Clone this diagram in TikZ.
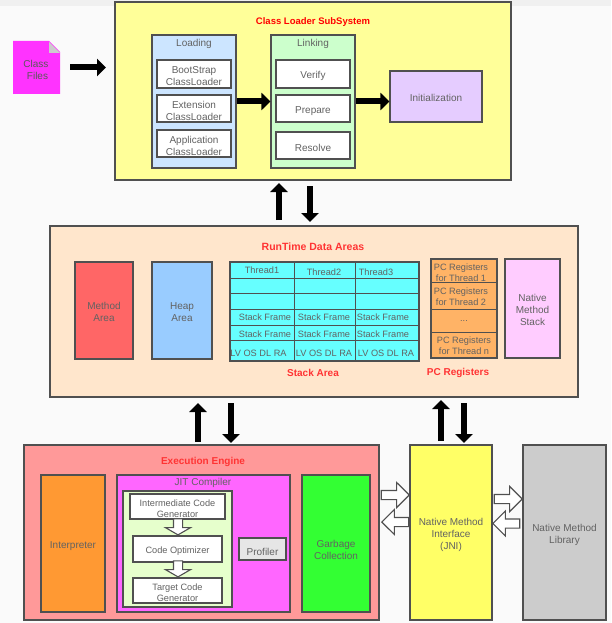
\documentclass[tikz,border=0pt]{standalone}
\usepackage{fontspec}
\setmainfont{Liberation Sans}
\usetikzlibrary{arrows.meta,shapes.arrows,calc}
\definecolor{ln}{HTML}{505050}
\definecolor{tx}{HTML}{626262}
\definecolor{ttl}{HTML}{FF3333}
\definecolor{cfiles}{HTML}{FF33FF}
\definecolor{cyel}{HTML}{FFFF99}
\definecolor{cload}{HTML}{CCE5FF}
\definecolor{clink}{HTML}{CCFFCC}
\definecolor{cinit}{HTML}{E5CCFF}
\definecolor{crt}{HTML}{FFE6CC}
\definecolor{cma}{HTML}{FF6666}
\definecolor{cha}{HTML}{99CCFF}
\definecolor{cst}{HTML}{66FFFF}
\definecolor{cpc}{HTML}{FFB366}
\definecolor{cnms}{HTML}{FFCCFF}
\definecolor{cee}{HTML}{FF9999}
\definecolor{cip}{HTML}{FF9933}
\definecolor{cjit}{HTML}{FF66FF}
\definecolor{cjin}{HTML}{E6FFCC}
\definecolor{cprof}{HTML}{E6E6E6}
\definecolor{cgc}{HTML}{33FF33}
\definecolor{cjni}{HTML}{FFFF66}
\definecolor{clib}{HTML}{CCCCCC}
\tikzset{
  x=1pt,y=-1pt,
  txt/.style={font=\fontsize{10}{12}\selectfont,text=tx,align=center,inner sep=0pt},
  small/.style={font=\fontsize{9.2}{11.3}\selectfont},
  ttlnode/.style={txt,font=\fontsize{10}{12}\selectfont\bfseries,text=ttl},
  boxed/.style={draw=ln,line width=1.1pt,inner sep=0pt,anchor=center},
  heavy/.style={draw=black,line width=6pt,-{Triangle[length=9pt,width=17pt]}},
  hollow/.style={single arrow,draw=ln,fill=white,line width=1.1pt,inner sep=0pt,
     single arrow head extend=8pt,single arrow tip angle=90,
     minimum width=24pt,anchor=tip},
  hollowsmall/.style={hollow,single arrow tip angle=120,minimum height=16pt,rotate=-90},
}
% \bx[text shift]{name}{x0}{y0}{x1}{y1}{fill}{text}
\newcommand{\bx}[8][2]{\node[boxed,fill=#7,minimum width=#5pt-#3pt,minimum height=#6pt-#4pt] (#2) at ({(#3+#5)/2},{(#4+#6)/2}) {};
  \node[txt] (#2t) at ({(#3+#5)/2},{(#4+#6)/2+#1}) {#8};}
\newcommand{\bxs}[8][2]{\node[boxed,fill=#7,minimum width=#5pt-#3pt,minimum height=#6pt-#4pt] (#2) at ({(#3+#5)/2},{(#4+#6)/2}) {};
  \node[txt,small] (#2t) at ({(#3+#5)/2},{(#4+#6)/2+#1}) {#8};}
\newcommand{\bxe}[6]{\node[boxed,fill=#6,minimum width=#4pt-#2pt,minimum height=#5pt-#3pt] (#1) at ({(#2+#4)/2},{(#3+#5)/2}) {};}
\newcommand{\lab}[4]{\node[txt] (#1) at (#2,#3) {#4};}
\newcommand{\labs}[4]{\node[txt,small] (#1) at (#2,#3) {#4};}
\newcommand{\shaft}{\rule{0pt}{8pt}}
\begin{document}
\begin{tikzpicture}
\useasboundingbox (0,0) rectangle (611,623);
\fill[white!98!black] (0,0) rectangle (611,623);
\fill[white!94!black] (0,0) rectangle (611,6);

% Class files
\path[fill=cfiles] (13,41) -- (49,41) -- (60,52) -- (60,94) -- (13,94) -- cycle;
\fill[black!20] (49,42) -- (60,53) -- (49,53) -- cycle;
\node[txt,text=black!65] (cf) at (36,70) {Class\\\hspace{3pt}Files};
\coordinate (cfout) at (70,67.5);
\coordinate (cfin) at (106,67.5);

% Class loader
\bxe{cl}{115}{2}{511}{180}{cyel}
\node[ttlnode,font=\fontsize{9.5}{12}\selectfont\bfseries,text=red] (clt) at (313,22) {Class Loader SubSystem};
\bxe{loading}{152}{35}{236}{168}{cload}
\lab{loadt}{194}{43.5}{Loading}
\bx{bs}{157}{60}{231}{88}{white}{BootStrap\\ClassLoader}
\bx{ext}{157}{95}{231}{122}{white}{Extension\\ClassLoader}
\bx{app}{157}{130}{231}{157}{white}{Application\\ClassLoader}
\bxe{linking}{271}{35}{355}{168}{clink}
\lab{lnkt}{313}{43.5}{Linking}
\bx[1.5]{ver}{276}{60}{350}{88}{white}{Verify}
\bx[2.5]{pre}{276}{95}{350}{122}{white}{Prepare}
\bx[2]{res}{276}{132}{350}{159}{white}{Resolve}
\bx[1.5]{init}{390}{71}{482}{122}{cinit}{Initialization}

\draw[heavy] (cfout) -- (cfin);
\draw[heavy] (loading.east) -- (linking.west);
\draw[heavy] (linking.east) -- (linking.east -| init.west);

% Runtime
\bxe{rt}{50}{226}{578}{397}{crt}
\node[ttlnode,font=\fontsize{10.5}{12}\selectfont\bfseries] (rtt) at (313,247) {RunTime Data Areas};
\bx[1.5]{ma}{75}{262}{133}{359}{cma}{Method\\Area}
\bx[2]{ha}{152}{262}{212}{359}{cha}{Heap\\Area}
\bxe{st}{230}{262}{419}{361}{cst}
\draw[ln,line width=.9pt] (st.west |- 0,278) -- (st.east |- 0,278)
  (st.west |- 0,293.5) -- (st.east |- 0,293.5)
  (st.west |- 0,309) -- (st.east |- 0,309)
  (st.west |- 0,325) -- (st.east |- 0,325)
  (st.west |- 0,340) -- (st.east |- 0,340)
  (294.5,0 |- st.north) -- (294.5,0 |- st.south)
  (355,0 |- st.north) -- (355,0 |- st.south);
\labs{t1}{262}{270.5}{Thread1}
\labs{t2}{324}{272}{Thread2}
\labs{t3}{376}{272}{Thread3}
\labs{a1}{265}{317.5}{Stack Frame}
\labs{a2}{324}{317.5}{Stack Frame}
\labs{a3}{383}{317.5}{Stack Frame}
\labs{b1}{265}{334}{Stack Frame}
\labs{b2}{324}{334}{Stack Frame}
\labs{b3}{383}{334}{Stack Frame}
\labs{c1}{258.5}{353}{LV OS DL RA}
\labs{c2}{324}{353}{LV OS DL RA}
\labs{c3}{386}{353}{LV OS DL RA}
\node[ttlnode] (sat) at (313,372.5) {Stack Area};
\node[ttlnode] (pct) at (458,372.5) {PC Registers};
\bxe{pc}{431}{259}{497}{358}{cpc}
\draw[ln,line width=.9pt] (pc.west |- 0,282) -- (pc.east |- 0,282)
  (pc.west |- 0,309) -- (pc.east |- 0,309)
  (pc.west |- 0,332) -- (pc.east |- 0,332);
\labs{p1}{461}{273}{PC Registers\\for Thread 1}
\labs{p2}{461}{297}{PC Registers\\for Thread 2}
\labs{p3}{464}{321}{...}
\labs{p4}{464}{346}{PC Registers\\for Thread n}
\bx[1]{nms}{505}{259}{560}{358}{cnms}{Native\\Method\\Stack}

% Execution engine
\bxe{ee}{24}{445}{379}{620}{cee}
\node[ttlnode] (eet) at (203,462) {Execution Engine};
\bx[3]{ip}{41}{475}{105}{612}{cip}{Interpreter}
\bxe{jit}{117}{475}{290}{612}{cjit}
\lab{jitt}{203}{483}{JIT Compiler}
\bxe{jin}{123}{491}{232}{607}{cjin}
\bxs{icg}{130}{494}{225}{519}{white}{Intermediate Code\\Generator}
\bxs{opt}{133}{536}{222}{562}{white}{Code Optimizer}
\bxs{tcg}{133}{578}{222}{603}{white}{Target Code\\Generator}
\bx[2.5]{prof}{239}{538}{286}{560}{cprof}{Profiler}
\bx[6]{gc}{302}{475}{370}{612}{cgc}{Garbage\\Collection}
\bx[2]{jni}{410}{445}{492}{620}{cjni}{Native Method\\Interface\\(JNI)}
\bx[2]{lib}{523}{445}{606}{620}{clib}{Native Method\\Library}

% Heavy vertical arrows
\coordinate (u1a) at (279,220); \coordinate (u1b) at (279,183);
\coordinate (d1a) at (310,186); \coordinate (d1b) at (310,222);
\coordinate (u2a) at (198,442); \coordinate (u2b) at (198,403);
\coordinate (d2a) at (231,403); \coordinate (d2b) at (231,443);
\coordinate (u3a) at (441,441); \coordinate (u3b) at (441,400);
\coordinate (d3a) at (464,403); \coordinate (d3b) at (464,443);
\foreach \p/\q in {u1a/u1b,d1a/d1b,u2a/u2b,d2a/d2b,u3a/u3b,d3a/d3b}{\draw[heavy] (\p) -- (\q);}

% Hollow arrows
\node[hollowsmall] (h1) at (178,535.5) {\shaft};
\node[hollowsmall] (h2) at (178,577.5) {\shaft};
\node[hollow,minimum height=28pt] (h3) at (410,495) {\shaft};
\node[hollow,minimum height=27pt,rotate=180] (h4) at (381,522) {\shaft};
\node[hollow,minimum height=28pt] (h5) at (523,499) {\shaft};
\node[hollow,minimum height=27pt,rotate=180] (h6) at (492,523.5) {\shaft};
\end{tikzpicture}
\end{document}
